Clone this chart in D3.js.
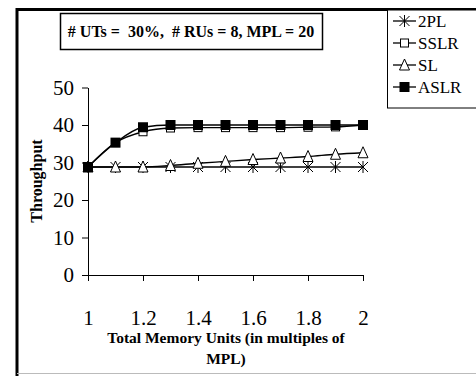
<!DOCTYPE html>
<html>
<head>
<meta charset="utf-8">
<script src="https://cdn.jsdelivr.net/npm/d3@7"></script>
</head>
<body style="margin:0;background:#fff">
<svg id="chart" width="476" height="376"></svg>
<script>
// Data
const memUnits = [1, 1.1, 1.2, 1.3, 1.4, 1.5, 1.6, 1.7, 1.8, 1.9, 2];
const tp2PL  = [28.8, 28.8, 28.8, 28.8, 28.8, 28.8, 28.8, 28.8, 28.8, 28.8, 28.8];
const tpSSLR = [28.8, 35.3, 38.2, 39.2, 39.3, 39.3, 39.3, 39.3, 39.4, 39.5, 40];
const tpSL   = [28.8, 28.8, 28.8, 29.2, 29.8, 30.3, 30.8, 31.2, 31.6, 32.2, 32.6];
const tpASLR = [28.8, 35.3, 39.4, 40, 40, 40, 40, 40, 40, 40, 40];
const yTicks = [0, 10, 20, 30, 40, 50];
const xTicks = [1, 1.2, 1.4, 1.6, 1.8, 2];
const seriesNames = ['2PL', 'SSLR', 'SL', 'ASLR'];
const seriesValues = [tp2PL, tpSSLR, tpSL, tpASLR];

const FONT = "'Liberation Serif'";
const svg = d3.select('#chart');

const x = d3.scaleLinear().domain([1, 2]).range([88, 363]);
const y = d3.scaleLinear().domain([0, 50]).range([275, 87.5]);

// Outer frame
svg.append('path')
  .attr('d', 'M17,376 V9.5 H476')
  .attr('fill', 'none').attr('stroke', '#000').attr('stroke-width', 3);
svg.append('line')
  .attr('x1', 17).attr('x2', 476).attr('y1', 373.5).attr('y2', 373.5)
  .attr('stroke', '#bbb').attr('stroke-width', 1);

// Title box
svg.append('rect')
  .attr('x', 60.5).attr('y', 13.5).attr('width', 262).attr('height', 36)
  .attr('fill', '#fff').attr('stroke', '#000').attr('stroke-width', 1.5);
svg.append('text')
  .attr('x', 191).attr('y', 37)
  .attr('text-anchor', 'middle')
  .style('font-family', FONT)
  .attr('font-size', 16).attr('font-weight', 'bold')
  .style('white-space', 'pre')
  .text('# UTs =  30%,  # RUs = 8, MPL = 20');

// Y axis
const yAxis = svg.append('g')
  .attr('transform', 'translate(88,0)')
  .call(d3.axisLeft(y).tickValues(yTicks).tickSize(6).tickPadding(8).tickSizeOuter(0));
yAxis.select('.domain').attr('stroke', '#000');
yAxis.selectAll('text').style('font-family', FONT).attr('font-size', 21).attr('fill', '#000');

// X axis
const xAxis = svg.append('g')
  .attr('transform', 'translate(0,275)')
  .call(d3.axisBottom(x).tickValues(xTicks).tickFormat(d3.format('')).tickSize(6).tickPadding(29).tickSizeOuter(0));
xAxis.select('.domain').attr('stroke', '#000');
xAxis.selectAll('text').style('font-family', FONT).attr('font-size', 21).attr('fill', '#000');

// Axis titles
svg.append('text')
  .attr('transform', 'translate(42,181) rotate(-90)')
  .attr('text-anchor', 'middle')
  .style('font-family', FONT)
  .attr('font-size', 16).attr('font-weight', 'bold')
  .text('Throughput');
svg.append('text')
  .attr('x', 226).attr('y', 343)
  .attr('text-anchor', 'middle')
  .style('font-family', FONT)
  .attr('font-size', 15.5).attr('font-weight', 'bold')
  .text('Total Memory Units (in multiples of');
svg.append('text')
  .attr('x', 226).attr('y', 364)
  .attr('text-anchor', 'middle')
  .style('font-family', FONT)
  .attr('font-size', 15.5).attr('font-weight', 'bold')
  .text('MPL)');

// Markers
function drawMarker(g, name, s) {
  const h = s / 2;
  if (name === '2PL') {
    g.append('path')
      .attr('d', `M${-h},${-h}L${h},${h}M${-h},${h}L${h},${-h}M0,${-h - 1}V${h + 1}`)
      .attr('stroke', '#000').attr('stroke-width', 1).attr('fill', 'none');
  } else if (name === 'SSLR') {
    g.append('rect')
      .attr('x', -h + 1).attr('y', -h + 1).attr('width', s - 2).attr('height', s - 2)
      .attr('fill', '#fff').attr('stroke', '#000').attr('stroke-width', 1);
  } else if (name === 'SL') {
    g.append('path')
      .attr('d', `M0,${-h - 1}L${h},${h}L${-h},${h}Z`)
      .attr('fill', '#fff').attr('stroke', '#000').attr('stroke-width', 1);
  } else {
    g.append('rect')
      .attr('x', -h).attr('y', -h).attr('width', s).attr('height', s)
      .attr('fill', '#000');
  }
}

const line = d3.line()
  .x(d => x(d[0]))
  .y(d => y(d[1]))
  .curve(d3.curveMonotoneX);

seriesNames.forEach((name, si) => {
  const pts = memUnits.map((m, i) => [m, seriesValues[si][i]]);
  svg.append('path')
    .datum(pts)
    .attr('d', line)
    .attr('fill', 'none')
    .attr('stroke', '#000')
    .attr('stroke-width', 1.3);
  pts.forEach(p => {
    const g = svg.append('g').attr('transform', `translate(${x(p[0])},${y(p[1])})`);
    drawMarker(g, name, 10);
  });
});

// Legend
svg.append('rect')
  .attr('x', 387.5).attr('y', 10).attr('width', 100).attr('height', 98)
  .attr('fill', '#fff').attr('stroke', '#000').attr('stroke-width', 1);
const legendY = [21, 43, 65, 87];
seriesNames.forEach((name, i) => {
  const ly = legendY[i];
  svg.append('line')
    .attr('x1', 393).attr('x2', 416).attr('y1', ly).attr('y2', ly)
    .attr('stroke', '#000').attr('stroke-width', 1.3);
  const g = svg.append('g').attr('transform', `translate(404.5,${ly})`);
  drawMarker(g, name, 10);
  svg.append('text')
    .attr('x', 418).attr('y', ly + 6)
    .style('font-family', FONT)
    .attr('font-size', 17)
    .text(name);
});
</script>
</body>
</html>
